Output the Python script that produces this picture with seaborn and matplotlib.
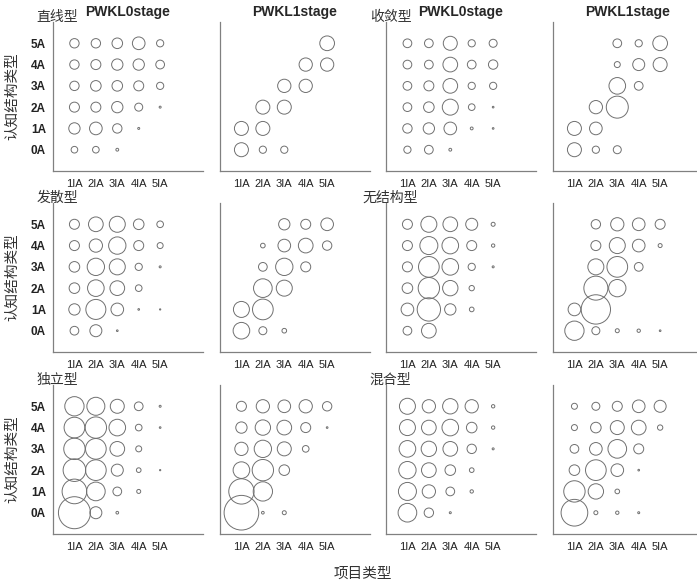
import matplotlib
matplotlib.use("Agg")
import matplotlib.pyplot as plt
import numpy as np
import pandas as pd
import seaborn as sns

# Category labels
items = ["1IA", "2IA", "3IA", "4IA", "5IA"]
levels = ["0A", "1A", "2A", "3A", "4A", "5A"]
types = ["直线型", "收敛型", "发散型", "无结构型", "独立型", "混合型"]
stages = ["PWKL0stage", "PWKL1stage"]

# Frequencies per cell: rows 0A..5A, columns 1IA..5IA (0 = no observations)
linear_s0 = [[11, 11, 2, 0, 0],
             [32, 40, 22, 1, 0],
             [25, 25, 32, 16, 1],
             [22, 28, 28, 25, 13],
             [22, 25, 32, 32, 19],
             [22, 22, 28, 40, 13]]
linear_s1 = [[49, 13, 13, 0, 0],
             [49, 49, 0, 0, 0],
             [0, 49, 49, 0, 0],
             [0, 0, 44, 44, 0],
             [0, 0, 0, 44, 44],
             [0, 0, 0, 0, 54]]
converge_s0 = [[13, 19, 2, 0, 0],
               [22, 32, 40, 2, 0.7],
               [19, 28, 64, 11, 0.7],
               [19, 25, 54, 13, 13],
               [19, 19, 54, 19, 22],
               [19, 19, 49, 13, 16]]
converge_s1 = [[49, 13, 16, 0, 0],
               [49, 40, 0, 0, 0],
               [0, 44, 121, 0, 0],
               [0, 0, 69, 19, 0],
               [0, 0, 9, 36, 49],
               [0, 0, 19, 13, 54]]
diverge_s0 = [[19, 36, 0.7, 0, 0],
              [32, 100, 40, 0.7, 0.4],
              [28, 69, 54, 11, 0],
              [28, 75, 64, 13, 1],
              [25, 44, 75, 25, 9],
              [25, 54, 64, 28, 11]]
diverge_s1 = [[69, 16, 5.4, 0, 0],
              [64, 107, 0, 0, 0],
              [0, 87, 64, 0, 0],
              [0, 19, 75, 25, 0],
              [0, 5.4, 40, 54, 22],
              [0, 0, 32, 25, 40]]
unstruct_s0 = [[19, 54, 0, 0, 0],
               [40, 136, 32, 5.4, 0],
               [28, 114, 59, 7.1, 0],
               [25, 107, 69, 13, 1],
               [25, 81, 69, 25, 2.8],
               [25, 64, 54, 36, 4]]
unstruct_s1 = [[93, 16, 4, 2.8, 0.7],
               [40, 215, 0, 0, 0],
               [0, 144, 75, 0, 0],
               [0, 64, 107, 19, 0],
               [0, 25, 64, 40, 4],
               [0, 22, 44, 40, 25]]
indep_s0 = [[256, 36, 1.8, 0, 0],
            [152, 87, 19, 4, 0],
            [128, 107, 36, 5.4, 0.4],
            [114, 107, 54, 9, 0],
            [107, 114, 69, 11, 0.7],
            [93, 81, 49, 19, 1]]
indep_s1 = [[300, 1.8, 4, 0, 0],
            [160, 93, 0, 0, 0],
            [69, 114, 28, 0, 0],
            [44, 75, 49, 11, 0],
            [32, 59, 54, 25, 0.7],
            [25, 44, 40, 44, 22]]
mixed_s0 = [[87, 22, 1, 0, 0],
            [81, 44, 19, 2.8, 0],
            [75, 54, 28, 5.4, 0],
            [69, 59, 54, 22, 1],
            [64, 54, 69, 28, 2.8],
            [64, 44, 59, 44, 2.8]]
mixed_s1 = [[178, 4, 2.8, 1, 0],
            [114, 59, 5.4, 0, 0],
            [28, 107, 40, 0.7, 0],
            [19, 40, 87, 25, 0],
            [9, 28, 49, 54, 7.1],
            [9, 16, 25, 40, 36]]

panels = [
    (types[0], linear_s0, linear_s1),
    (types[1], converge_s0, converge_s1),
    (types[2], diverge_s0, diverge_s1),
    (types[3], unstruct_s0, unstruct_s1),
    (types[4], indep_s0, indep_s1),
    (types[5], mixed_s0, mixed_s1),
]

# Long-form table for seaborn
records = []
for tname, s0, s1 in panels:
    for stage, grid in zip(stages, (s0, s1)):
        for r, lev in enumerate(levels):
            for c, it in enumerate(items):
                v = grid[r][c]
                if v > 0:
                    records.append(dict(type=tname, stage=stage, item=it, level=lev,
                                        x=c + 1, y=r + 1, value=v))
df = pd.DataFrame(records)

sns.set_style("white")
plt.rcParams["font.family"] = ["Liberation Sans", "Noto Sans CJK SC", "DejaVu Sans"]

W, H = 697, 585
fig = plt.figure(figsize=(W / 100, H / 100), dpi=100)

col_left = [53, 220, 386, 553]
row_top = [22, 203, 385]
ax_w, ax_h = 150, 149

VMAX = 300.0
SMAX = 2.0736 * VMAX  # marker area in pt^2 for the largest value
edge = "#707070"
spine_c = "#808080"

for ri in range(3):
    for ci in range(4):
        tname = panels[ri * 2 + ci // 2][0]
        stage = stages[ci % 2]
        left = col_left[ci] / W
        bottom = 1 - (row_top[ri] + ax_h) / H
        ax = fig.add_axes([left, bottom, ax_w / W, ax_h / H])
        sub = df[(df["type"] == tname) & (df["stage"] == stage)]
        sns.scatterplot(data=sub, x="x", y="y", size="value",
                        sizes=(0, SMAX), size_norm=(0, VMAX),
                        facecolor="none", edgecolor=edge, linewidth=0.7,
                        legend=False, ax=ax, clip_on=False)
        ax.set_xlim(0, 7)
        ax.set_ylim(0, 7)
        ax.set_xticks(range(1, 6))
        ax.set_xticklabels(items, fontsize=8, color="#222222")
        ax.set_yticks(range(1, 7))
        if ci == 0:
            ax.set_yticklabels(levels, fontsize=8.5, fontweight="bold", color="#222222")
            ax.set_ylabel("认知结构类型", fontsize=10.5, color="#333333",
                          family=["Noto Sans CJK SC"])
            ax.yaxis.set_label_coords(-0.23, 0.5)
        else:
            ax.set_yticklabels([])
            ax.set_ylabel("")
        ax.set_xlabel("")
        ax.tick_params(axis="both", direction="in", length=2.5, width=0.6,
                       color=spine_c, pad=5)
        ax.tick_params(axis="x", pad=6)
        for side in ("top", "right"):
            ax.spines[side].set_visible(False)
        for side in ("left", "bottom"):
            ax.spines[side].set_color(spine_c)
            ax.spines[side].set_linewidth(0.9)
        if ri == 0:
            ax.set_title(stage, fontsize=10, fontweight="bold", pad=4)
        if ci % 2 == 0:
            ax.text(0.03, 1.035, tname, transform=ax.transAxes, ha="center",
                    va="center", fontsize=10, color="#333333",
                    family=["Noto Sans CJK SC"])

fig.text(0.52, 0.02, "项目类型", ha="center", va="center", fontsize=10.5,
         color="#333333", family=["Noto Sans CJK SC"])

fig.savefig("out.png", dpi=100)
